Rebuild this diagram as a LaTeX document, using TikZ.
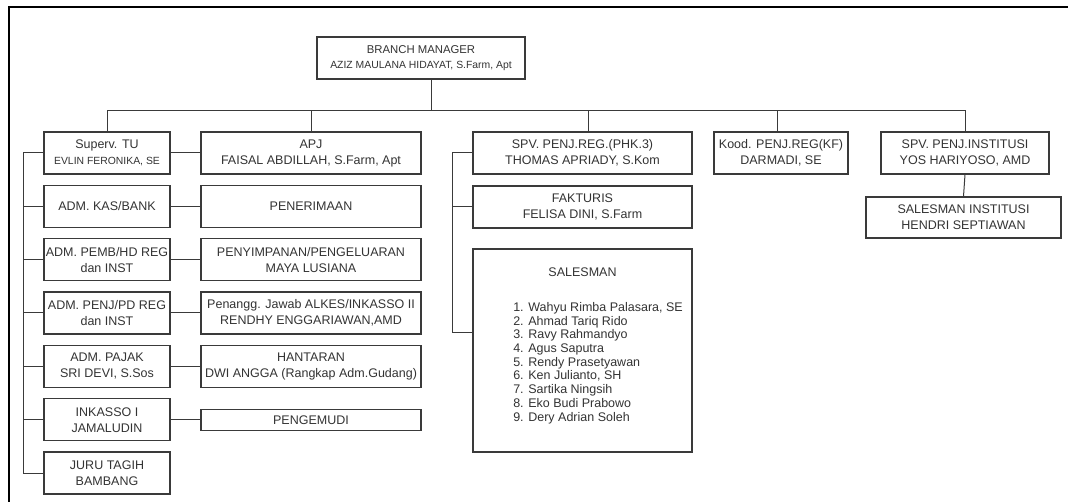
\documentclass[tikz,border=0pt]{standalone}
\usepackage{fontspec}
\setmainfont{Liberation Sans}
\definecolor{boxc}{HTML}{3A3A3A}
\definecolor{txt}{HTML}{333333}
\newcommand\fsz{\fontsize{9.375}{12}\selectfont}
\newcommand\fsm{\fontsize{7.8}{12}\selectfont}
\begin{document}
\begin{tikzpicture}[x=0.75pt,y=-0.75pt,
  box/.style={draw=boxc, line width=0.8pt, fill=white, inner sep=0pt, align=center,
    text=txt, font=\fsz, minimum height=31.5pt},
  lcol/.style={box, minimum width=94.5pt},
  rcol/.style={box, minimum width=165pt},
  mcol/.style={box, minimum width=164.25pt},
  lbl/.style={inner sep=0pt, text=txt, font=\fsz},
  conn/.style={draw=boxc, line width=0.75pt},
  frame/.style={draw=black, line width=2.2pt}]
\useasboundingbox (0,0) rectangle (1068,502);
\fill[white] (0,0) rectangle (1068,502);
% frame
\coordinate (fbl) at (9,502);
\coordinate (ftl) at (9,7);
\coordinate (ftr) at (1068,7);
\draw[frame] (fbl) -- (ftl) -- (ftr);

% top
\node[box, minimum width=156pt, font=\fontsize{8.5}{11.25}\selectfont] (bm) at (421,58)
  {BRANCH MANAGER\\{\fsm AZIZ MAULANA HIDAYAT, S.Farm, Apt}};

% left column
\node[lcol] (tu) at (107,153) {Superv. TU\\{\fsm EVLIN FERONIKA, SE}};
\node[lcol] (kas) at (107,206.3) {ADM. KAS/BANK};
\node[lcol] (pemb) at (107,259.7) {ADM. PEMB/HD REG\\dan INST};
\node[lcol] (penj) at (107,313) {ADM. PENJ/PD REG\\dan INST};
\node[lcol] (pajak) at (107,366.3) {ADM. PAJAK\\SRI DEVI, S.Sos};
\node[lcol] (ink) at (107,419.7) {INKASSO I\\JAMALUDIN};
\node[lcol] (juru) at (107,473) {JURU TAGIH\\BAMBANG};

% second column
\node[rcol] (apj) at (311,153) {APJ\\FAISAL ABDILLAH, S.Farm, Apt};
\node[rcol] (terima) at (311,206.3) {PENERIMAAN};
\node[rcol] (simpan) at (311,259.7) {PENYIMPANAN/PENGELUARAN\\MAYA LUSIANA};
\node[rcol] (alkes) at (311,313) {Penangg. Jawab ALKES/INKASSO II\\RENDHY ENGGARIAWAN,AMD};
\node[rcol] (hantar) at (311,366.3) {HANTARAN\\DWI ANGGA (Rangkap Adm.Gudang)};
\node[rcol, minimum height=15.75pt] (kemudi) at (311,419.7) {PENGEMUDI};

% third column
\node[mcol] (spvreg) at (582.5,153) {SPV. PENJ.REG.(PHK.3)\\THOMAS APRIADY, S.Kom};
\node[mcol] (fakt) at (582.5,207) {FAKTURIS\\FELISA DINI, S.Farm};
\node[mcol, minimum height=152.25pt] (sales) at (582.5,350.5) {};
\node[lbl] (salestitle) at (582.5,272) {SALESMAN};
\node[lbl, anchor=west, align=left, font=\fontsize{9.375}{10.3}\selectfont] (saleslist) at (513,363)
  {1. Wahyu Rimba Palasara, SE\\2. Ahmad Tariq Rido\\3. Ravy Rahmandyo\\4. Agus Saputra\\5. Rendy Prasetyawan\\6. Ken Julianto, SH\\7. Sartika Ningsih\\8. Eko Budi Prabowo\\9. Dery Adrian Soleh};

% right side
\node[box, minimum width=100.5pt] (kood) at (781,153) {Kood. PENJ.REG(KF)\\DARMADI, SE};
\node[box, minimum width=126pt] (spvinst) at (965,153) {SPV. PENJ.INSTITUSI\\YOS HARIYOSO, AMD};
\node[box, minimum width=146.25pt, minimum height=30.75pt] (salinst) at (963.5,217.5) {SALESMAN INSTITUSI\\HENDRI SEPTIAWAN};

% bus
\coordinate (bus) at (431,111);
\coordinate (regtap) at (588,132);
\coordinate (koodtap) at (777,132);
\draw[conn] (bm.south -| bus) -- (bus);
\draw[conn] (tu.north) -- (tu.north |- bus) -- (spvinst.north |- bus) -- (spvinst.north);
\draw[conn] (apj.north) -- (apj.north |- bus);
\draw[conn] (regtap) -- (regtap |- bus);
\draw[conn] (koodtap) -- (koodtap |- bus);
\draw[conn] (spvinst.south) -- (salinst.north);

% left bracket
\coordinate (lb) at (23,153);
\draw[conn] (tu.west) -- (lb) -- (juru.west -| lb) -- (juru.west);
\foreach \n in {kas,pemb,penj,pajak,ink}{\draw[conn] (\n.west -| lb) -- (\n.west);}

% row links
\draw[conn] (tu.east) -- (apj.west);
\draw[conn] (kas.east) -- (terima.west);
\draw[conn] (pemb.east) -- (simpan.west);
\draw[conn] (penj.east) -- (alkes.west);
\draw[conn] (pajak.east) -- (hantar.west);
\draw[conn] (ink.east) -- (kemudi.west);

% reg bracket
\coordinate (rb) at (452,333);
\draw[conn] (spvreg.west) -| (rb) -- (rb -| sales.west);
\draw[conn] (fakt.west -| rb) -- (fakt.west);
\end{tikzpicture}
\end{document}
